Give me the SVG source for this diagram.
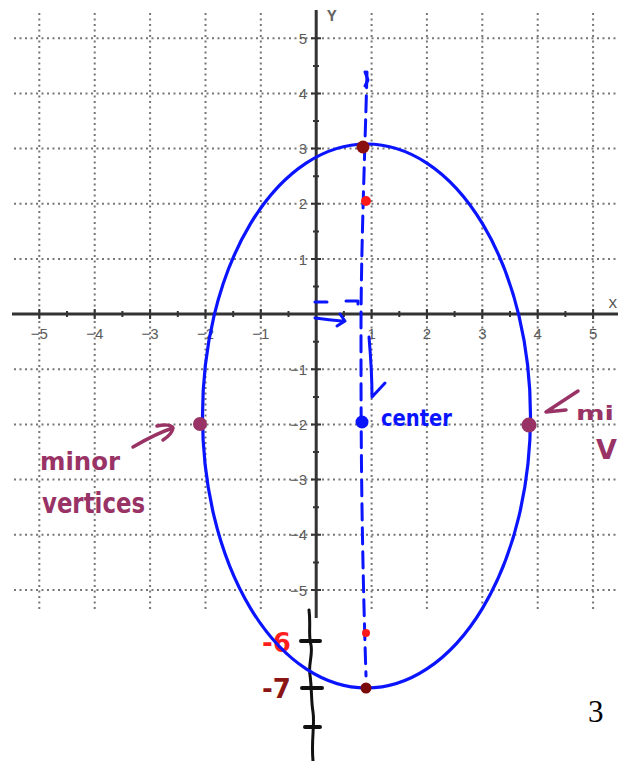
<svg xmlns="http://www.w3.org/2000/svg" width="618" height="761" viewBox="0 0 618 761">
<style>
.grid{stroke:#777;stroke-width:2;stroke-dasharray:2 3.5;fill:none}
.axis{stroke:#333;stroke-width:3;fill:none}
.tick{stroke:#333;stroke-width:2;fill:none}
.lbl{font-family:"Liberation Sans",Arial,sans-serif;font-size:15px;fill:#5a5a5a}
.hand{font-family:"DejaVu Sans",sans-serif;font-weight:bold}
.blue{stroke:#0a14ff;fill:none;stroke-width:3;stroke-linecap:round;stroke-linejoin:round}
.maroonS{stroke:#993366;fill:none;stroke-width:3.5;stroke-linecap:round;stroke-linejoin:round}
.black{stroke:#111;fill:none;stroke-width:3;stroke-linecap:round}
</style>
<rect width="618" height="761" fill="#fff"/>
<g id="grid">
<path class="grid" d="M14,38.3H618M14,93.5H618M14,148.6H618M14,203.8H618M14,259H618M14,369.3H618M14,424.5H618M14,479.6H618M14,534.8H618M14,590H618"/>
<path class="grid" d="M39.3,13V612M94.7,13V612M150.1,13V612M205.5,13V612M260.8,13V612M371.6,13V612M426.9,13V612M482.3,13V612M537.7,13V612M593.1,13V612"/>
</g>
<g id="axes">
<path class="axis" d="M12,314.1H618M316.2,10V618"/>
<path class="tick" d="M39.3,309v10M94.7,309v10M150.1,309v10M205.5,309v10M260.8,309v10M371.6,309v10M426.9,309v10M482.3,309v10M537.7,309v10M593.1,309v10
M67,311v6M122.4,311v6M177.8,311v6M233.2,311v6M288.5,311v6M343.9,311v6M399.3,311v6M454.6,311v6M510,311v6M565.4,311v6
M311,38.3h10M311,93.5h10M311,148.6h10M311,203.8h10M311,259h10M311,369.3h10M311,424.5h10M311,479.6h10M311,534.8h10M311,590h10
M313,65.9h6M313,121h6M313,176.2h6M313,231.4h6M313,286.5h6M313,341.7h6M313,396.9h6M313,452h6M313,507.2h6M313,562.4h6"/>
<text class="lbl" x="39.3" y="339" text-anchor="middle">−5</text>
<text class="lbl" x="94.7" y="339" text-anchor="middle">−4</text>
<text class="lbl" x="150.1" y="339" text-anchor="middle">−3</text>
<text class="lbl" x="205.5" y="339" text-anchor="middle">−2</text>
<text class="lbl" x="260.8" y="339" text-anchor="middle">−1</text>
<text class="lbl" x="371.6" y="339" text-anchor="middle">1</text>
<text class="lbl" x="426.9" y="339" text-anchor="middle">2</text>
<text class="lbl" x="482.3" y="339" text-anchor="middle">3</text>
<text class="lbl" x="537.7" y="339" text-anchor="middle">4</text>
<text class="lbl" x="593.1" y="339" text-anchor="middle">5</text>
<text class="lbl" x="307" y="43.8" text-anchor="end">5</text>
<text class="lbl" x="307" y="99" text-anchor="end">4</text>
<text class="lbl" x="307" y="154.1" text-anchor="end">3</text>
<text class="lbl" x="307" y="209.3" text-anchor="end">2</text>
<text class="lbl" x="307" y="264.5" text-anchor="end">1</text>
<text class="lbl" x="307" y="374.8" text-anchor="end">−1</text>
<text class="lbl" x="307" y="430" text-anchor="end">−2</text>
<text class="lbl" x="307" y="485.1" text-anchor="end">−3</text>
<text class="lbl" x="307" y="540.3" text-anchor="end">−4</text>
<text class="lbl" x="307" y="595.5" text-anchor="end">−5</text>
<text x="327" y="21" font-family="Liberation Mono,monospace" font-size="16" font-weight="bold" fill="#666">Y</text>
<text x="608" y="308" font-family="Liberation Mono,monospace" font-size="16" fill="#555">x</text>
</g>
<g id="extension">
<path class="black" d="M309,610C311,625 308,635 311,645C313,655 308,665 310,675C312,690 311,700 313,712C315,725 311,740 313,761"/>
<path stroke="#111" stroke-width="4" stroke-linecap="round" d="M301,641H320M302,688H322M305,727H320"/>
<text class="hand" x="262" y="652" font-size="26" fill="#ff1e1e">-6</text>
<text class="hand" x="262" y="698" font-size="26" fill="#8b1414">-7</text>
</g>
<g id="ellipse">
<ellipse cx="366.5" cy="416" rx="164" ry="272" fill="none" stroke="#0a14ff" stroke-width="3.2"/>
</g>
<g id="connectors">
<path class="blue" stroke-dasharray="16 8" d="M367,72C365,150 361,250 361,330C361,420 361,520 366,676"/>
<path class="blue" d="M365,72l3,8l-3,6"/>
<path class="blue" d="M315,302h12M346,301h12v3"/>
<path class="blue" d="M315,318C325,319 335,321 345,321M340,314l5,7l-8,5"/>
<path class="blue" d="M369,337C371,360 372,380 372,397L385,383"/>
<path class="maroonS" d="M133,447C145,440 160,432 173,428M157,426C165,424 172,425 173,428C172,433 168,437 163,440"/>
<path class="maroonS" d="M578,391L546,412L566,410"/>
</g>
<g id="points">
<circle cx="363" cy="147" r="6.5" fill="#8b1010"/>
<circle cx="366" cy="201" r="5" fill="#ff1a1a"/>
<circle cx="362" cy="422" r="6.5" fill="#0a14ff"/>
<circle cx="200" cy="424" r="7" fill="#993366"/>
<circle cx="529" cy="425" r="7.5" fill="#993366"/>
<circle cx="366" cy="633" r="4" fill="#ff1a1a"/>
<circle cx="366" cy="688" r="5.5" fill="#7a0a0a"/>
</g>
<g id="labels">
<text class="hand" x="381" y="426" font-size="23" fill="#0a14ff" textLength="71" lengthAdjust="spacingAndGlyphs">center</text>
<text class="hand" x="40" y="470" font-size="25" fill="#993366" textLength="80" lengthAdjust="spacingAndGlyphs">minor</text>
<text class="hand" x="42" y="513" font-size="28" fill="#993366" textLength="103" lengthAdjust="spacingAndGlyphs">vertices</text>
<text class="hand" x="576" y="420" font-size="20" fill="#993366" textLength="38" lengthAdjust="spacingAndGlyphs">mi</text>
<text class="hand" x="596" y="459" font-size="27" fill="#993366">V</text>
<text x="588" y="722" font-family="Liberation Serif,serif" font-size="31" fill="#000">3</text>
</g>
</svg>
